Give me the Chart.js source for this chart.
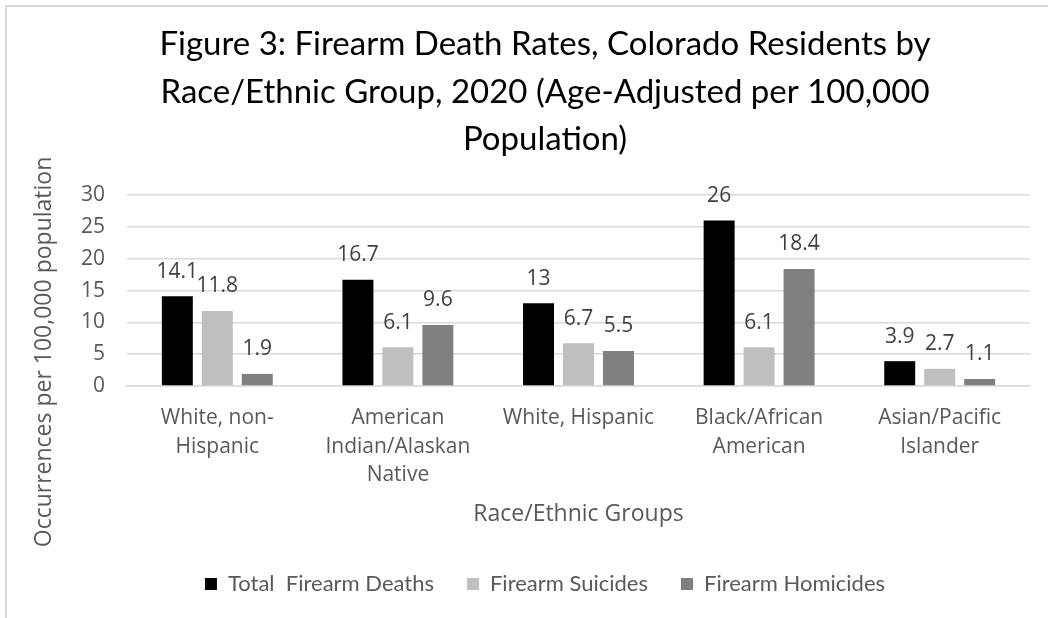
<!DOCTYPE html>
<html>
<head>
<meta charset="utf-8">
<script src="https://cdn.jsdelivr.net/npm/chart.js@4/dist/chart.umd.min.js"></script>
<style>
  html, body { margin: 0; padding: 0; background: #ffffff; }
  #wrap { width: 1048px; height: 618px; position: relative; }
</style>
</head>
<body>
<div id="wrap"><canvas id="chart" width="1048" height="618"></canvas></div>
<script>
// Race/ethnic groups (multi-line axis labels)
const categories = [
  ['White, non-', 'Hispanic'],
  ['American', 'Indian/Alaskan', 'Native'],
  ['White, Hispanic'],
  ['Black/African', 'American'],
  ['Asian/Pacific', 'Islander']
];

// Age-adjusted rates per 100,000 population
const totalDeaths = [14.1, 16.7, 13, 26, 3.9];
const suicides    = [11.8, 6.1, 6.7, 6.1, 2.7];
const homicides   = [1.9, 9.6, 5.5, 18.4, 1.1];

const seriesNames = ['Total  Firearm Deaths', 'Firearm Suicides', 'Firearm Homicides'];
const yTicks = [0, 5, 10, 15, 20, 25, 30];

const titleLines = [
  'Figure 3: Firearm Death Rates, Colorado Residents by',
  'Race/Ethnic Group, 2020 (Age-Adjusted per 100,000',
  'Population)'
];
const yAxisTitle = 'Occurrences per 100,000 population';
const xAxisTitle = 'Race/Ethnic Groups';

const SANS = '"Open Sans", "DejaVu Sans", sans-serif';
const NARROW = 'Lato, "Open Sans", sans-serif';

// Thin frame along the top and left edges
const framePlugin = {
  id: 'frame',
  beforeDraw(chart) {
    const ctx = chart.ctx;
    ctx.save();
    ctx.fillStyle = '#ffffff';
    ctx.fillRect(0, 0, chart.width, chart.height);
    ctx.strokeStyle = '#d9d9d9';
    ctx.lineWidth = 2;
    ctx.beginPath();
    ctx.moveTo(6, chart.height);
    ctx.lineTo(6, 6);
    ctx.lineTo(chart.width, 6);
    ctx.stroke();
    ctx.restore();
  }
};

// Value labels above each bar
const valueLabels = {
  id: 'valueLabels',
  afterDatasetsDraw(chart) {
    const ctx = chart.ctx;
    ctx.save();
    ctx.font = '21px ' + SANS;
    ctx.fillStyle = '#404040';
    ctx.textAlign = 'center';
    ctx.textBaseline = 'alphabetic';
    chart.data.datasets.forEach((ds, i) => {
      const meta = chart.getDatasetMeta(i);
      meta.data.forEach((bar, j) => {
        ctx.fillText(String(ds.data[j]), bar.x, bar.y - 18.5);
      });
    });
    ctx.restore();
  }
};

// Rotated y-axis title
const yTitlePlugin = {
  id: 'yTitle',
  afterDraw(chart) {
    const ctx = chart.ctx;
    ctx.save();
    ctx.translate(44, 352);
    ctx.rotate(-Math.PI / 2);
    ctx.font = '23px ' + SANS;
    ctx.fillStyle = '#595959';
    ctx.textAlign = 'center';
    ctx.textBaseline = 'middle';
    ctx.fillText(yAxisTitle, 0, 0);
    ctx.restore();
  }
};

new Chart(document.getElementById('chart'), {
  type: 'bar',
  data: {
    labels: categories,
    datasets: [
      { label: seriesNames[0], data: totalDeaths, backgroundColor: '#000000' },
      { label: seriesNames[1], data: suicides,    backgroundColor: '#bfbfbf' },
      { label: seriesNames[2], data: homicides,   backgroundColor: '#7f7f7f' }
    ]
  },
  options: {
    responsive: false,
    animation: false,
    devicePixelRatio: 1,
    datasets: { bar: { categoryPercentage: 0.664, barPercentage: 0.775 } },
    layout: { padding: { left: 60, right: 18, top: 0, bottom: 13 } },
    plugins: {
      title: {
        display: true,
        text: titleLines,
        color: '#000000',
        font: { family: NARROW, size: 33, weight: 'normal', lineHeight: 1.44 },
        padding: { top: 21, bottom: 31.5 }
      },
      legend: {
        position: 'bottom',
        labels: {
          boxWidth: 12,
          boxHeight: 12,
          padding: 33,
          color: '#595959',
          font: { family: NARROW, size: 22 }
        }
      },
      tooltip: { enabled: false }
    },
    scales: {
      x: {
        grid: { display: false, drawTicks: false },
        border: { display: true, color: '#d9d9d9', width: 1.5 },
        ticks: {
          color: '#595959',
          font: { family: SANS, size: 21, lineHeight: 1.36 },
          padding: 18,
          maxRotation: 0,
          autoSkip: false
        },
        title: {
          display: true,
          text: xAxisTitle,
          color: '#595959',
          font: { family: SANS, size: 23 },
          padding: { top: 10, bottom: 12 }
        },
        afterFit(scale) { scale.height = 154; }
      },
      y: {
        min: 0,
        max: 30,
        afterBuildTicks(scale) { scale.ticks = yTicks.map(v => ({ value: v })); },
        grid: { color: '#d9d9d9', lineWidth: 1.5, drawTicks: false },
        border: { display: false },
        ticks: {
          color: '#595959',
          font: { family: SANS, size: 21 },
          padding: 22
        },
        afterFit(scale) { scale.width = 67; }
      }
    }
  },
  plugins: [framePlugin, valueLabels, yTitlePlugin]
});
</script>
</body>
</html>
